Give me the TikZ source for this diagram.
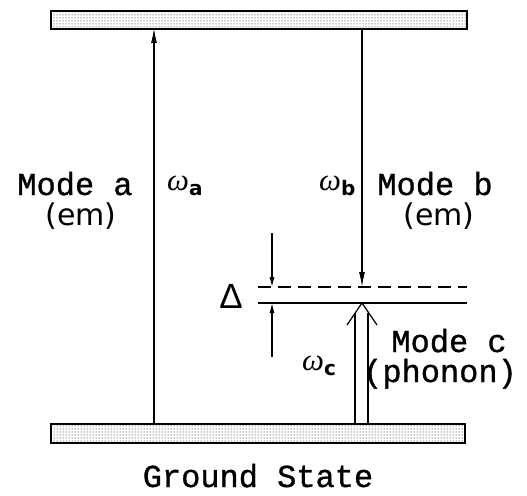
\documentclass[tikz,border=0pt]{standalone}
\usepackage{fontspec}
\setmonofont[FakeBold=1]{Liberation Mono}
\setsansfont{DejaVu Sans}
\newfontfamily\grk{Liberation Serif}
\newfontfamily\dlt{Liberation Sans}
\usetikzlibrary{patterns,arrows.meta}
\newcommand{\omg}[1]{{\grk\itshape ω}\raisebox{-5pt}{\fontsize{20}{20}\selectfont\sffamily\bfseries #1}}
\begin{document}
\begin{tikzpicture}[x=1pt,y=-1pt,
  bar/.style={draw,line width=1.6pt,pattern=dots,pattern color=black},
  trans/.style={line width=1.2pt,-{Latex[length=15pt,width=6pt]}},
  gap/.style={line width=1.1pt,-{Latex[length=10pt,width=5pt]}},
  lvl/.style={line width=1.2pt},
  lab/.style={font=\fontsize{32}{32}\selectfont\ttfamily,anchor=base,inner sep=0pt},
  om/.style={font=\fontsize{31}{31}\selectfont,anchor=base west,inner sep=0pt}
]
\useasboundingbox (0,0) rectangle (527,495);
% levels
\node[bar,minimum width=416pt,minimum height=18pt,inner sep=0pt,anchor=north west] (top) at (50,10) {};
\node[bar,minimum width=414pt,minimum height=19pt,inner sep=0pt,anchor=north west] (gnd) at (50,423) {};
\coordinate (dl) at (258,287); \coordinate (dr) at (467,287);
\coordinate (sl) at (258,303); \coordinate (sr) at (467,303);
\draw[lvl,dash pattern=on 13pt off 7pt] (dl) -- (dr);
\draw[lvl] (sl) -- (sr);
% mode a
\coordinate (a0) at (154,423); \coordinate (a1) at (154,28);
\draw[trans] (a0) -- (a1);
% mode b
\coordinate (b0) at (362,28); \coordinate (b1) at (362,287);
\draw[trans] (b0) -- (b1);
% delta
\coordinate (u0) at (272,233); \coordinate (u1) at (272,287);
\coordinate (l0) at (272,357); \coordinate (l1) at (272,303);
\draw[gap] (u0) -- (u1);
\draw[gap] (l0) -- (l1);
% mode c double arrow
\coordinate (c1a) at (355,423); \coordinate (c1b) at (355,313);
\coordinate (c2a) at (368,423); \coordinate (c2b) at (368,313);
\coordinate (cl) at (347,325); \coordinate (ct) at (362,303); \coordinate (cr) at (377,325);
\draw[lvl] (c1a) -- (c1b);
\draw[lvl] (c2a) -- (c2b);
\draw[lvl,line join=miter] (cl) -- (ct) -- (cr);
% labels
\node[lab] (ma) at (75,195) {Mode a};
\node[lab,font=\fontsize{30}{30}\selectfont\sffamily] (ema) at (81,225) {(em)};
\node[lab] (mb) at (435,195) {Mode b};
\node[lab,font=\fontsize{30}{30}\selectfont\sffamily] (emb) at (439,225) {(em)};
\node[lab] (mc) at (449,352) {Mode c};
\node[lab] (ph) at (440,382) {(phonon)};
\node[lab] (gs) at (258,487) {Ground State};
\node[om] (wa) at (167,190) {\omg{a}};
\node[om] (wb) at (319,190) {\omg{b}};
\node[om] (wc) at (302,370) {\omg{c}};
\node[anchor=center,inner sep=0pt,font=\fontsize{35}{35}\selectfont\dlt] (del) at (231,296) {Δ};
\end{tikzpicture}
\end{document}
